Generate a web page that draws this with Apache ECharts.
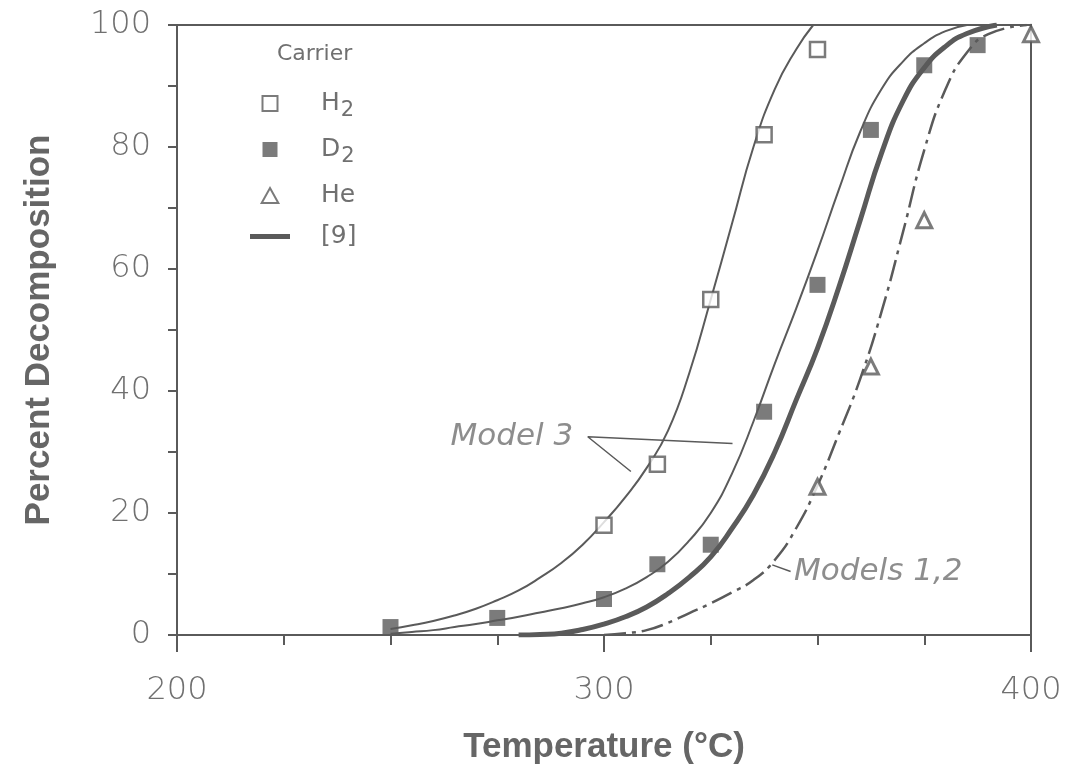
<!DOCTYPE html>
<html>
<head>
<meta charset="utf-8">
<script src="https://cdn.jsdelivr.net/npm/echarts@6/dist/echarts.min.js"></script>
<style>
html,body{margin:0;padding:0;background:#fff;}
#chart{width:1071px;height:775px;}
</style>
</head>
<body>
<div id="chart"></div>
<script>
// ---- measured points (carrier gas) ----
const h2T = [300, 312.5, 325, 337.5, 350];
const h2Pct = [18, 28, 55, 82, 96];
const d2T = [250, 275, 300, 312.5, 325, 337.5, 350, 362.5, 375, 387.5];
const d2Pct = [1.3, 2.8, 5.9, 11.6, 14.8, 36.6, 57.4, 82.8, 93.4, 96.7];
const heT = [350, 362.5, 375, 400];
const hePct = [24.3, 44, 68, 98.5];

// ---- curves ----
const h2ModelT = [250, 255, 260, 265, 270, 275, 280, 285, 290, 295, 300, 305, 310, 315, 320, 325, 330, 335, 340, 345, 349];
const h2ModelPct = [1.0, 1.6, 2.3, 3.2, 4.3, 5.7, 7.3, 9.4, 11.8, 14.8, 18.5, 22.6, 27.4, 33.5, 43, 55, 67.5, 80, 89.5, 96, 100];
const d2ModelT = [250, 255, 260, 265, 270, 275, 280, 285, 290, 295, 300, 305, 310, 315, 320, 325, 330, 335, 340, 345, 350, 355, 360, 365, 370, 375, 380, 385];
const d2ModelPct = [0.2, 0.5, 0.8, 1.3, 1.8, 2.4, 3.0, 3.7, 4.4, 5.2, 6.2, 7.6, 9.5, 12, 15.5, 20, 26.5, 35, 44.5, 53.5, 63, 73, 82.5, 89.5, 94, 97, 99, 100];
const ref9T = [280, 285, 290, 295, 300, 305, 310, 315, 320, 325, 330, 335, 340, 345, 350, 355, 360, 365, 370, 375, 380, 385, 392];
const ref9Pct = [0, 0.1, 0.3, 0.9, 1.8, 3.0, 4.6, 6.8, 9.5, 12.8, 17.5, 23, 30, 38.5, 47, 57, 68, 79, 87.5, 93, 96.5, 98.6, 100];
const m12T = [300, 305, 310, 315, 320, 325, 330, 335, 340, 345, 350, 355, 360, 365, 370, 375, 380, 385, 390, 399];
const m12Pct = [0, 0.3, 0.8, 2.0, 3.6, 5.2, 7.0, 9.0, 12.3, 17.5, 24.5, 33, 42, 53, 66, 79.5, 89.5, 95.5, 98.5, 100];

// ---- annotations (data space) ----
const model3LeaderT = [330.1, 296.2, 306.3];
const model3LeaderPct = [31.4, 32.5, 26.8];
const models12LeaderT = [339.4, 343.7];
const models12LeaderPct = [11.5, 10.4];
const noteText = ['Model 3', 'Models 1,2'];
const noteT = [296.2, 343.7];
const notePct = [32.5, 10.4];

// ---- axes ----
const xTicks = { min: 200, max: 400, interval: 100 };
const yTicks = { min: 0, max: 100, interval: 20 };

const zip = (a, b) => a.map((v, i) => [v, b[i]]);
const INK = '#5a5a5a';
const TXT = '#707070';
const labelFont = '"DejaVu Sans ExtraLight", "DejaVu Sans Light", "DejaVu Sans", sans-serif';
const titleFont = '"Liberation Sans", Arial, sans-serif';
const noteFont = '"DejaVu Sans ExtraLight", "DejaVu Sans", sans-serif';

const squareIcon = 'path://M0,0H10V10H0Z';
const triIcon = 'path://M5,0L10,9L0,9Z';
const barIcon = 'path://M0,0H40V5H0Z';

const lineCommon = { type: 'line', smooth: 0.5, showSymbol: false, symbol: 'none', z: 2 };

const chart = echarts.init(document.getElementById('chart'));
const option = {
  animation: false,
  backgroundColor: '#fff',
  grid: { left: 177, right: 40, top: 25, bottom: 140, show: true, borderColor: INK, borderWidth: 2, backgroundColor: 'transparent' },
  title: {
    text: 'Carrier', left: 272, top: 38,
    textStyle: { fontSize: 22, fontWeight: 'normal', color: TXT, fontFamily: noteFont }
  },
  legend: {
    orient: 'vertical', left: 245, top: 86, itemWidth: 40, itemHeight: 15, itemGap: 16,
    symbolKeepAspect: true,
    data: [
      { name: 'H2', icon: squareIcon },
      { name: 'D2', icon: squareIcon },
      { name: 'He', icon: triIcon },
      { name: '[9]', icon: barIcon }
    ],
    selectedMode: false,
    formatter: n => n === 'H2' ? 'H{s|2}' : n === 'D2' ? 'D{s|2}' : n,
    textStyle: {
      fontSize: 25, color: TXT, fontFamily: noteFont, padding: [0, 0, 0, 26],
      rich: { s: { fontSize: 21, color: TXT, fontFamily: noteFont, padding: [14, 0, 0, 1] } }
    }
  },
  xAxis: {
    type: 'value', min: xTicks.min, max: xTicks.max, interval: xTicks.interval,
    name: 'Temperature (°C)', nameLocation: 'middle', nameGap: 95,
    nameTextStyle: { fontSize: 35, fontWeight: 'bold', color: '#666', fontFamily: titleFont },
    axisLine: { show: true, onZero: false, lineStyle: { color: INK, width: 2 } },
    axisTick: { show: true, inside: false, length: 17, lineStyle: { color: INK, width: 2 } },
    minorTick: { show: true, splitNumber: 4, length: 10, lineStyle: { color: INK, width: 2 } },
    splitLine: { show: false }, minorSplitLine: { show: false },
    axisLabel: { margin: 40, fontSize: 32, color: TXT, fontFamily: labelFont }
  },
  yAxis: {
    type: 'value', min: yTicks.min, max: yTicks.max, interval: yTicks.interval,
    name: 'Percent Decomposition', nameLocation: 'middle', nameGap: 120,
    nameTextStyle: { fontSize: 35, fontWeight: 'bold', color: '#666', fontFamily: titleFont },
    axisLine: { show: true, lineStyle: { color: INK, width: 2 } },
    axisTick: { show: true, inside: false, length: 9, lineStyle: { color: INK, width: 2 } },
    minorTick: { show: true, splitNumber: 2, length: 9, lineStyle: { color: INK, width: 2 } },
    splitLine: { show: false }, minorSplitLine: { show: false },
    axisLabel: { margin: 26, fontSize: 32, color: TXT, fontFamily: labelFont }
  },
  series: [
    Object.assign({ name: 'H2 Model 3', data: zip(h2ModelT, h2ModelPct), lineStyle: { color: INK, width: 2 } }, lineCommon),
    Object.assign({ name: 'D2 Model 3', data: zip(d2ModelT, d2ModelPct), lineStyle: { color: INK, width: 2 } }, lineCommon),
    Object.assign({ name: '[9]', data: zip(ref9T, ref9Pct), color: INK, lineStyle: { color: INK, width: 5 } }, lineCommon),
    Object.assign({ name: 'Models 1,2', data: zip(m12T, m12Pct), lineStyle: { color: INK, width: 2.5, type: [22, 6, 4, 6] } }, lineCommon),
    Object.assign({ name: 'Model 3 leader', data: zip(model3LeaderT, model3LeaderPct), lineStyle: { color: INK, width: 1.5 } }, lineCommon, { smooth: false }),
    Object.assign({ name: 'Models 1,2 leader', data: zip(models12LeaderT, models12LeaderPct), lineStyle: { color: INK, width: 1.5 } }, lineCommon, { smooth: false }),
    { name: 'notes', type: 'scatter', symbolSize: 1, itemStyle: { color: 'rgba(0,0,0,0)' }, z: 6, silent: true,
      data: noteT.map((t, i) => ({
        value: [t, notePct[i]], name: noteText[i],
        label: { show: true, position: i === 0 ? 'left' : 'right', distance: i === 0 ? 14 : 3, formatter: noteText[i],
          fontSize: 31, fontStyle: 'italic', color: TXT, fontFamily: noteFont }
      })) },
    { name: 'H2', type: 'scatter', data: zip(h2T, h2Pct), symbol: 'rect', symbolSize: 15,
      itemStyle: { color: '#fff', borderColor: INK, borderWidth: 2.5 }, z: 5 },
    { name: 'D2', type: 'scatter', data: zip(d2T, d2Pct), symbol: 'rect', symbolSize: 16,
      itemStyle: { color: INK, borderColor: INK, borderWidth: 0 }, z: 5 },
    { name: 'He', type: 'scatter', data: zip(heT, hePct), symbol: 'triangle', symbolSize: 15,
      itemStyle: { color: '#fff', borderColor: INK, borderWidth: 3 }, z: 5 }
  ]
};
chart.setOption(option);
</script>
</body>
</html>
